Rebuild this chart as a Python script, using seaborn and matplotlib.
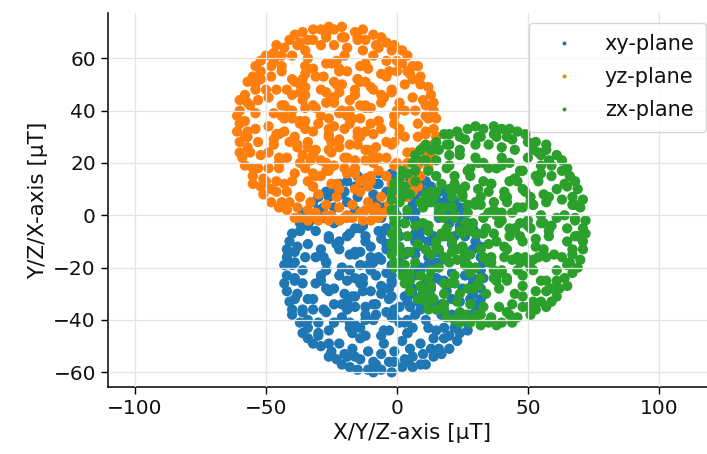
import matplotlib
matplotlib.use("Agg")
import matplotlib.pyplot as plt
import seaborn as sns
import pandas as pd

# ---------------- data ----------------
PLANES = ["xy-plane", "yz-plane", "zx-plane"]
COLORS = ["#1f77b4", "#ff7f0e", "#2ca02c"]

XY_X = [33, 32, 29, 26, 22, 18, 11, 4, -2, -7, -15, -22, -27, -32, -36, -40, -42, -43, -43, -41, -40, -36, -32, -26, -21, -15, -9, -2, 6, 11, 17, 23, 27, 30, 32, 33,
        32, 32, 30, 27, 24, 19, 13, 8, 1, -4, -12, -19, -24, -30, -34, -37, -41, -42, -42, -42, -40, -37, -34, -29, -23, -18, -11, -6, 2, 9, 14, 20, 24, 27, 31, 32,
        30, 29, 26, 24, 19, 15, 9, 4, -1, -8, -13, -20, -26, -30, -33, -37, -39, -40, -39, -39, -36, -34, -30, -25, -19, -14, -8, -1, 4, 10, 16, 20, 23, 27, 29, 30,
        29, 28, 26, 24, 20, 16, 10, 6, -1, -7, -13, -16, -21, -28, -32, -34, -38, -39, -39, -38, -36, -34, -30, -26, -20, -16, -9, -3, 3, 6, 13, 18, 22, 25, 28, 29,
        26, 25, 22, 20, 16, 12, 7, 1, -4, -9, -15, -19, -24, -28, -31, -34, -35, -36, -36, -34, -32, -30, -26, -22, -17, -11, -6, -1, 5, 9, 14, 18, 21, 24, 25, 26,
        -14, -12, -5, 2, 4, -24, -18, -16, -12, -5, 1, 4, 12, 15, -27, -19, -16, -8, -4, -2, 5, 9, 17,
        -32, -24, -20, -16, -9, -3, -2, 4, 10, 17, 21, -31, -27, -19, -13, -10, -6, -2, 6, 10, 17, 19,
        -29, -27, -21, -13, -10, -4, -2, 7, 9, 15, 21, -31, -27, -18, -14, -10, -6, 1, 3, 12, 15, 19,
        -29, -23, -22, -16, -10, -4, -1, 7, 8, 15, 21, -26, -18, -14, -12, -5, -1, 7, 11, 14,
        -25, -22, -13, -9, -6, 0, 7, 8, 16, -16, -8, -5, -1, 6,
        -17, -14, -6, -3, 4, 6, -21, -18, -12, -9, -1, 3, 7, 11,
        -28, -21, -19, -12, -8, -1, 1, 8, 14, 17, -26, -24, -17, -13, -6, -3, 3, 6, 13, 19,
        -29, -22, -16, -14, -8, -2, 4, 7, 11, 18, -27, -21, -18, -11, -9, -2, 2, 9, 12, 16,
        -28, -22, -16, -14, -7, -4, 4, 7, 13, 16, -26, -23, -19, -12, -6, -3, 1, 9, 12, 18,
        -24, -16, -13, -7, -4, 3, 9, 12, -17, -14, -6, -3, 4, 7]
XY_Y = [-18, -12, -5, 1, 5, 9, 13, 15, 16, 16, 15, 12, 9, 5, 1, -7, -13, -19, -26, -33, -38, -45, -49, -54, -57, -59, -60, -60, -58, -57, -53, -48, -44, -37, -32, -24,
        -21, -16, -10, -3, 3, 6, 11, 14, 15, 15, 14, 13, 10, 7, 1, -3, -10, -16, -23, -29, -36, -41, -47, -50, -55, -58, -59, -59, -58, -57, -54, -51, -45, -41, -34, -28,
        -20, -13, -6, -1, 3, 8, 10, 11, 13, 12, 12, 9, 7, 2, -2, -6, -14, -19, -25, -32, -37, -43, -46, -52, -54, -55, -57, -56, -56, -53, -51, -46, -42, -38, -30, -26,
        -24, -14, -8, -4, 1, 5, 9, 11, 12, 12, 11, 11, 8, 3, -1, -4, -12, -18, -24, -30, -36, -40, -45, -49, -53, -54, -56, -56, -55, -54, -51, -47, -43, -38, -32, -26,
        -17, -12, -8, -3, 1, 5, 7, 9, 9, 8, 7, 5, 3, -1, -6, -11, -16, -21, -26, -32, -36, -41, -44, -49, -51, -52, -53, -52, -51, -49, -47, -43, -38, -33, -28, -23,
        -47, -46, -49, -48, -45, -41, -43, -42, -40, -44, -41, -40, -43, -44, -37, -36, -35, -38, -37, -39, -35, -36, -38,
        -32, -34, -30, -31, -34, -32, -31, -33, -30, -34, -32, -26, -28, -25, -26, -29, -27, -26, -28, -29, -25, -27,
        -23, -21, -20, -24, -21, -22, -23, -20, -21, -24, -22, -16, -18, -15, -19, -16, -17, -18, -15, -16, -19, -17,
        -13, -11, -10, -14, -12, -11, -13, -10, -12, -14, -11, -8, -7, -5, -8, -6, -9, -7, -5, -8,
        -1, -2, -4, -1, 0, -3, -2, -4, -1, 2, 5, 3, 2, 4,
        -45, -43, -46, -44, -45, -43, -39, -41, -38, -40, -39, -41, -38, -40,
        -36, -34, -33, -35, -34, -36, -35, -33, -34, -36, -29, -28, -31, -29, -30, -28, -31, -30, -28, -29,
        -25, -23, -24, -26, -23, -25, -24, -23, -26, -25, -18, -20, -21, -19, -18, -19, -21, -20, -19, -18,
        -16, -13, -15, -14, -16, -13, -14, -15, -16, -14, -9, -11, -8, -10, -9, -11, -8, -9, -10, -8,
        -3, -5, -4, -6, -5, -3, -6, -4, 0, 1, -1, 2, 0, 1]

YZ_X = [-61, -60, -57, -54, -50, -46, -39, -32, -26, -21, -13, -6, -1, 4, 8, 12, 14, 15, 15, 13, 12, 8, 4, -2, -7, -13, -19, -26, -34, -39, -45, -51, -55, -58, -60, -61,
        -60, -60, -58, -55, -52, -47, -41, -36, -29, -24, -16, -9, -4, 2, 6, 9, 13, 14, 14, 14, 12, 9, 6, 1, -5, -10, -17, -22, -30, -37, -42, -48, -52, -55, -59, -60,
        -58, -57, -54, -52, -47, -43, -37, -32, -27, -20, -15, -8, -2, 2, 5, 9, 11, 12, 11, 11, 8, 6, 2, -3, -9, -14, -20, -27, -32, -38, -44, -48, -51, -55, -57, -58,
        -57, -56, -54, -52, -48, -44, -38, -34, -27, -21, -15, -12, -7, 0, 4, 6, 10, 11, 11, 10, 8, 6, 2, -2, -8, -12, -19, -25, -31, -34, -41, -46, -50, -53, -56, -57,
        -54, -53, -50, -48, -44, -40, -35, -29, -24, -19, -13, -9, -4, 0, 3, 6, 7, 8, 8, 6, 4, 2, -2, -6, -11, -17, -22, -27, -33, -37, -42, -46, -49, -52, -53, -54,
        -14, -16, -23, -30, -32, -4, -10, -12, -16, -23, -29, -32, -40, -43, -1, -9, -12, -20, -24, -26, -33, -37, -45,
        4, -4, -8, -12, -19, -25, -26, -32, -38, -45, -49, 3, -1, -9, -15, -18, -22, -26, -34, -38, -45, -47,
        1, -1, -7, -15, -18, -24, -26, -35, -37, -43, -49, 3, -1, -10, -14, -18, -22, -29, -31, -40, -43, -47,
        1, -5, -6, -12, -18, -24, -27, -35, -36, -43, -49, -2, -10, -14, -16, -23, -27, -35, -39, -42,
        -3, -6, -15, -19, -22, -28, -35, -36, -44, -12, -20, -23, -27, -34,
        -11, -14, -22, -25, -32, -34, -7, -10, -16, -19, -27, -31, -35, -39,
        0, -7, -9, -16, -20, -27, -29, -36, -42, -45, -2, -4, -11, -15, -22, -25, -31, -34, -41, -47,
        1, -6, -12, -14, -20, -26, -32, -35, -39, -46, -1, -7, -10, -17, -19, -26, -30, -37, -40, -44,
        0, -6, -12, -14, -21, -24, -32, -35, -41, -44, -2, -5, -9, -16, -22, -25, -29, -37, -40, -46,
        -4, -12, -15, -21, -24, -31, -37, -40, -11, -14, -22, -25, -32, -35]
YZ_Y = [38, 44, 51, 57, 61, 65, 69, 71, 72, 72, 71, 68, 65, 61, 57, 49, 43, 37, 30, 23, 18, 11, 7, 2, -1, -2, -1, -2, -2, -1, 3, 8, 12, 19, 24, 32,
        35, 40, 46, 53, 59, 62, 67, 70, 71, 71, 70, 69, 66, 63, 57, 53, 46, 40, 33, 27, 20, 15, 9, 6, 1, -2, -1, -2, -2, -1, 2, 5, 11, 15, 22, 28,
        36, 43, 50, 55, 59, 64, 66, 67, 69, 68, 68, 65, 63, 58, 54, 50, 42, 37, 31, 24, 19, 13, 10, 4, 2, 1, -1, 0, 0, 3, 5, 10, 14, 18, 26, 30,
        32, 42, 48, 52, 57, 61, 65, 67, 68, 68, 67, 67, 64, 59, 55, 52, 44, 38, 32, 26, 20, 16, 11, 7, 3, 2, 0, 0, 1, 2, 5, 9, 13, 18, 24, 30,
        39, 44, 48, 53, 57, 61, 63, 65, 65, 64, 63, 61, 59, 55, 50, 45, 40, 35, 30, 24, 20, 15, 12, 7, 5, 4, 3, 4, 5, 7, 9, 13, 18, 23, 28, 33,
        9, 10, 7, 8, 11, 15, 13, 14, 16, 12, 15, 16, 13, 12, 19, 20, 21, 18, 19, 17, 21, 20, 18,
        24, 22, 26, 25, 22, 24, 25, 23, 26, 22, 24, 30, 28, 31, 30, 27, 29, 30, 28, 27, 31, 29,
        33, 35, 36, 32, 35, 34, 33, 36, 35, 32, 34, 40, 38, 41, 37, 40, 39, 38, 41, 40, 37, 39,
        43, 45, 46, 42, 44, 45, 43, 46, 44, 42, 45, 48, 49, 51, 48, 50, 47, 49, 51, 48,
        55, 54, 52, 55, 56, 53, 54, 52, 55, 58, 61, 59, 58, 60,
        11, 13, 10, 12, 11, 13, 17, 15, 18, 16, 17, 15, 18, 16,
        20, 22, 23, 21, 22, 20, 21, 23, 22, 20, 27, 28, 25, 27, 26, 28, 25, 26, 28, 27,
        31, 33, 32, 30, 33, 31, 32, 33, 30, 31, 38, 36, 35, 37, 38, 37, 35, 36, 37, 38,
        40, 43, 41, 42, 40, 43, 42, 41, 40, 42, 47, 45, 48, 46, 47, 45, 48, 47, 46, 48,
        53, 51, 52, 50, 51, 53, 50, 52, 56, 57, 55, 58, 56, 57]

ZX_X = [38, 44, 51, 57, 61, 65, 69, 71, 72, 72, 71, 68, 65, 61, 57, 49, 43, 37, 30, 23, 18, 11, 7, 2, -1, -2, -1, -2, -2, -1, 3, 8, 12, 19, 24, 32,
        35, 40, 46, 53, 59, 62, 67, 70, 71, 71, 70, 69, 66, 63, 57, 53, 46, 40, 33, 27, 20, 15, 9, 6, 1, -2, -2, -1, -2, -1, 2, 5, 11, 15, 22, 28,
        36, 43, 50, 55, 59, 64, 66, 67, 69, 68, 68, 65, 63, 58, 54, 50, 42, 37, 31, 24, 19, 13, 10, 4, 2, 1, -1, 0, 0, 3, 5, 10, 14, 18, 26, 30,
        32, 42, 48, 52, 57, 61, 65, 67, 68, 68, 67, 67, 64, 59, 55, 52, 44, 38, 32, 26, 20, 16, 11, 7, 3, 2, 0, 0, 1, 2, 5, 9, 13, 18, 24, 30,
        39, 44, 48, 53, 57, 61, 63, 65, 65, 64, 63, 61, 59, 55, 50, 45, 40, 35, 30, 24, 20, 15, 12, 7, 5, 4, 3, 4, 5, 7, 9, 13, 18, 23, 28, 33,
        9, 10, 7, 8, 11, 15, 13, 14, 16, 12, 15, 16, 13, 12, 19, 20, 21, 18, 19, 17, 21, 20, 18,
        24, 22, 26, 25, 22, 24, 25, 23, 26, 22, 24, 30, 28, 31, 30, 27, 29, 30, 28, 27, 31, 29,
        33, 35, 36, 32, 35, 34, 33, 36, 35, 32, 34, 40, 38, 41, 37, 40, 39, 38, 41, 40, 37, 39,
        43, 45, 46, 42, 44, 45, 43, 46, 44, 42, 45, 48, 49, 51, 48, 50, 47, 49, 51, 48,
        55, 54, 52, 55, 56, 53, 54, 52, 55, 58, 61, 59, 58, 60,
        11, 13, 10, 12, 11, 13, 17, 15, 18, 16, 17, 15, 18, 16,
        20, 22, 23, 21, 22, 20, 21, 23, 22, 20, 27, 28, 25, 27, 26, 28, 25, 26, 28, 27,
        31, 33, 32, 30, 33, 31, 32, 33, 30, 31, 38, 36, 35, 37, 38, 37, 35, 36, 37, 38,
        40, 43, 41, 42, 40, 43, 42, 41, 40, 42, 47, 45, 48, 46, 47, 45, 48, 47, 46, 48,
        53, 51, 52, 50, 51, 53, 50, 52, 56, 57, 55, 58, 56, 57]
ZX_Y = [-42, -41, -38, -35, -31, -27, -20, -13, -7, -2, 6, 13, 18, 23, 27, 31, 33, 34, 34, 32, 31, 27, 23, 17, 12, 6, 0, -7, -15, -20, -26, -32, -36, -39, -41, -42,
        -41, -41, -39, -36, -33, -28, -22, -17, -10, -5, 3, 10, 15, 21, 25, 28, 32, 33, 33, 33, 31, 28, 25, 20, 14, 9, 2, -3, -11, -18, -23, -29, -33, -36, -40, -41,
        -39, -38, -35, -33, -28, -24, -18, -13, -8, -1, 4, 11, 17, 21, 24, 28, 30, 31, 30, 30, 27, 25, 21, 16, 10, 5, -1, -8, -13, -19, -25, -29, -32, -36, -38, -39,
        -38, -37, -35, -33, -29, -25, -19, -15, -8, -2, 4, 7, 12, 19, 23, 25, 29, 30, 30, 29, 27, 25, 21, 17, 11, 7, 0, -6, -12, -15, -22, -27, -31, -34, -37, -38,
        -35, -34, -31, -29, -25, -21, -16, -10, -5, 0, 6, 10, 15, 19, 22, 25, 26, 27, 27, 25, 23, 21, 17, 13, 8, 2, -3, -8, -14, -18, -23, -27, -30, -33, -34, -35,
        5, 3, -4, -11, -13, 15, 9, 7, 3, -4, -10, -13, -21, -24, 18, 10, 7, -1, -5, -7, -14, -18, -26,
        23, 15, 11, 7, 0, -6, -7, -13, -19, -26, -30, 22, 18, 10, 4, 1, -3, -7, -15, -19, -26, -28,
        20, 18, 12, 4, 1, -5, -7, -16, -18, -24, -30, 22, 18, 9, 5, 1, -3, -10, -12, -21, -24, -28,
        20, 14, 13, 7, 1, -5, -8, -16, -17, -24, -30, 17, 9, 5, 3, -4, -8, -16, -20, -23,
        16, 13, 4, 0, -3, -9, -16, -17, -25, 7, -1, -4, -8, -15,
        8, 5, -3, -6, -13, -15, 12, 9, 3, 0, -8, -12, -16, -20,
        19, 12, 10, 3, -1, -8, -10, -17, -23, -26, 17, 15, 8, 4, -3, -6, -12, -15, -22, -28,
        20, 13, 7, 5, -1, -7, -13, -16, -20, -27, 18, 12, 9, 2, 0, -7, -11, -18, -21, -25,
        19, 13, 7, 5, -2, -5, -13, -16, -22, -25, 17, 14, 10, 3, -3, -6, -10, -18, -21, -27,
        15, 7, 4, -2, -5, -12, -18, -21, 8, 5, -3, -6, -13, -16]

X_TICKS = [-100, -50, 0, 50, 100]
Y_TICKS = [-60, -40, -20, 0, 20, 40, 60]
X_LABEL = "X/Y/Z-axis [μT]"
Y_LABEL = "Y/Z/X-axis [μT]"

# ---------------- build table ----------------
frames = []
for name, xs, ys in zip(PLANES, [XY_X, YZ_X, ZX_X], [XY_Y, YZ_Y, ZX_Y]):
    n = min(len(xs), len(ys))
    frames.append(pd.DataFrame({"x": xs[:n], "y": ys[:n], "plane": name}))
df = pd.concat(frames, ignore_index=True)

# ---------------- plot ----------------
sns.set_theme(style="ticks")
plt.rcParams["font.family"] = ["DejaVu Sans"]

W, H = 707, 454
fig = plt.figure(figsize=(W / 100, H / 100), dpi=100)
ax = fig.add_axes([107.7 / W, (H - 387) / H, (716 - 107.7) / W, (387 - 12.7) / H])

sns.scatterplot(data=df, x="x", y="y", hue="plane", hue_order=PLANES,
                palette=COLORS, s=55, linewidth=0, ax=ax)

ax.set_xlim(-110.4, 121.8)
ax.set_ylim(-65.6, 77.4)
ax.set_xticks(X_TICKS)
ax.set_yticks(Y_TICKS)
ax.set_axisbelow(False)
ax.grid(True, color="#e3e3e3", linewidth=0.9)
sns.despine(ax=ax)
for sp in ("left", "bottom"):
    ax.spines[sp].set_color("black")
    ax.spines[sp].set_linewidth(1.1)
ax.tick_params(axis="both", labelsize=14.5, length=5, width=1.0, color="black", labelcolor="#111111")
ax.set_xlabel(X_LABEL, fontsize=15.5, color="#111111")
ax.set_ylabel(Y_LABEL, fontsize=15.5, color="#111111")

sns.move_legend(ax, "upper right", bbox_to_anchor=(706 / W, 1 - 23 / H),
                bbox_transform=fig.transFigure, borderaxespad=0, title=None,
                fontsize=15, markerscale=0.39, frameon=True, fancybox=True,
                edgecolor="#cccccc", framealpha=0.8, borderpad=0.55,
                handlelength=2.3, labelspacing=0.62, labelcolor="#111111")

fig.savefig("out.png", dpi=100)
